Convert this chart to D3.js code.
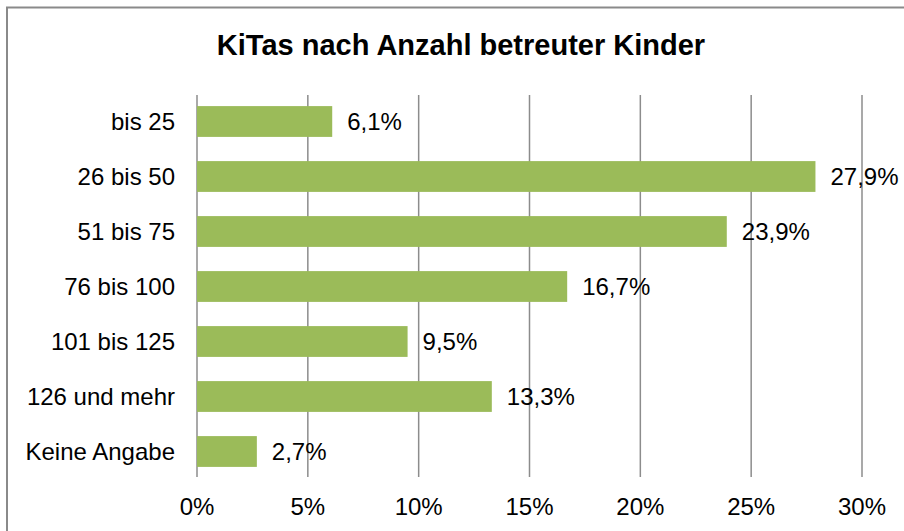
<!DOCTYPE html>
<html>
<head>
<meta charset="utf-8">
<script src="https://cdn.jsdelivr.net/npm/d3@7/dist/d3.min.js"></script>
<style>
  html, body { margin: 0; padding: 0; background: #fff; }
  svg { display: block; }
  text { font-family: "Liberation Sans", Arial, Helvetica, sans-serif; fill: #000; }
</style>
</head>
<body>
<svg id="chart" width="904" height="531"></svg>
<script>
const title = "KiTas nach Anzahl betreuter Kinder";
const categories = ["bis 25", "26 bis 50", "51 bis 75", "76 bis 100", "101 bis 125", "126 und mehr", "Keine Angabe"];
const values = [6.1, 27.9, 23.9, 16.7, 9.5, 13.3, 2.7];
const tickValues = [0, 5, 10, 15, 20, 25, 30];

const W = 904, H = 531;
const svg = d3.select("#chart");

// outer border
svg.append("rect")
  .attr("x", 7).attr("y", 7.5)
  .attr("width", W + 10).attr("height", H + 10)
  .attr("fill", "none")
  .attr("stroke", "#8a8a8a")
  .attr("stroke-width", 2);

svg.append("text")
  .attr("x", 461).attr("y", 55)
  .attr("text-anchor", "middle")
  .attr("font-size", 29)
  .attr("font-weight", "bold")
  .text(title);

const x = d3.scaleLinear().domain([0, 30]).range([197, 862]);
const y = d3.scaleBand().domain(categories).range([94, 479]).paddingInner(0.44).paddingOuter(0.22);

// gridlines
svg.append("g").selectAll("line")
  .data(tickValues)
  .join("line")
  .attr("x1", d => x(d)).attr("x2", d => x(d))
  .attr("y1", y.range()[0] + 1).attr("y2", y.range()[1] - 2)
  .attr("stroke", "#8c8c8c")
  .attr("stroke-width", 1.5);

// bars
svg.append("g").selectAll("rect")
  .data(values)
  .join("rect")
  .attr("x", x(0))
  .attr("y", (d, i) => y(categories[i]))
  .attr("width", d => x(d) - x(0))
  .attr("height", y.bandwidth())
  .attr("fill", "#9BBB59");

// value labels
const fmt = v => v.toFixed(1).replace(".", ",") + "%";
svg.append("g").selectAll("text")
  .data(values)
  .join("text")
  .attr("x", d => x(d) + 15)
  .attr("y", (d, i) => y(categories[i]) + y.bandwidth() / 2 + 8.5)
  .attr("font-size", 24)
  .text(d => fmt(d));

// category labels
svg.append("g").selectAll("text")
  .data(categories)
  .join("text")
  .attr("x", x(0) - 22)
  .attr("y", d => y(d) + y.bandwidth() / 2 + 8.5)
  .attr("text-anchor", "end")
  .attr("font-size", 24)
  .text(d => d);

// x tick labels
svg.append("g").selectAll("text")
  .data(tickValues)
  .join("text")
  .attr("x", d => x(d))
  .attr("y", 515)
  .attr("text-anchor", "middle")
  .attr("font-size", 24)
  .text(d => d + "%");
</script>
</body>
</html>
